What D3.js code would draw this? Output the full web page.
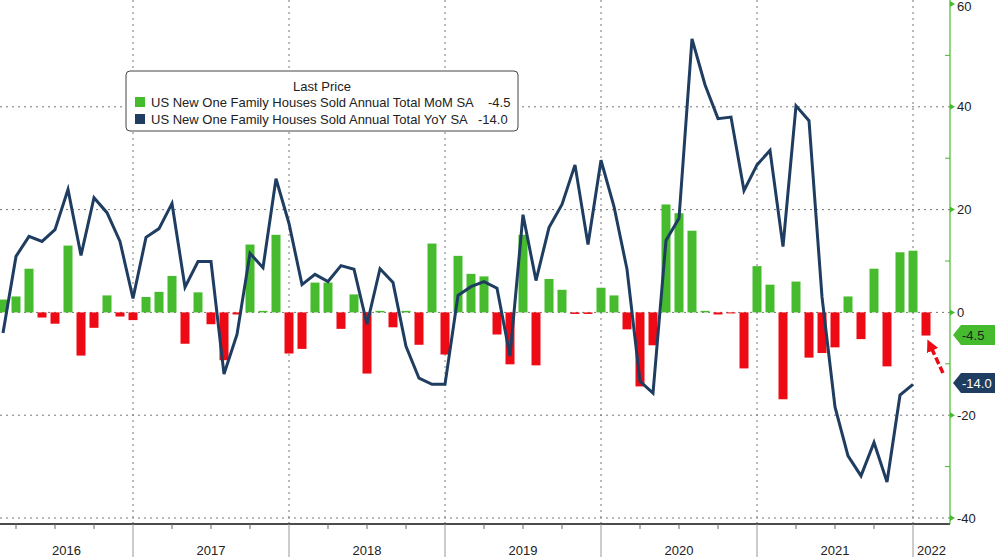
<!DOCTYPE html>
<html lang="en">
<head>
<meta charset="UTF-8">
<title>US New Home Sales</title>
<script src="https://d3js.org/d3.v7.min.js"></script>
<style>
  body { margin: 0; background: #fff; }
  text { font-family: "Liberation Sans Narrow", "Liberation Sans", Arial, sans-serif; }
</style>
</head>
<body>
<svg width="995" height="557"></svg>
<script>
// monthly data, first month Mar 2016 (month index 2 counted from Jan 2016)
const startIndex = 2;
const momValues = [2.5, 3.1, 8.5, -1.0, -2.2, 13.0, -8.4, -3.0, 3.3, -0.8, -1.5, 3.0,
  4.0, 7.1, -6.1, 3.9, -2.3, -9.3, -0.4, 13.2, 0.3, 15.1, -8.0, -7.1,
  5.8, 5.8, -3.2, 3.5, -11.9, 0.3, -2.9, 0.3, -6.3, 13.4, -8.2, 11.0,
  7.5, 7.0, -4.3, -10.1, 15.1, -10.3, 6.5, 4.4, -0.3, -0.3, 4.8, 3.3,
  -3.3, -14.4, -6.4, 21.0, 19.3, 15.9, 0.3, -0.4, -0.2, -10.9, 9.0, 5.4,
  -16.9, 6.0, -8.8, -7.9, -6.8, 3.1, -5.2, 8.5, -10.5, 11.7, 12.0, -4.5];
const yoyValues = [-4.0, 10.9, 14.8, 13.8, 16.1, 23.9, 11.1, 22.3, 19.4, 13.8, 2.7, 14.6,
  16.3, 21.2, 4.9, 9.9, 9.9, -12.0, -4.3, 11.5, 8.7, 26.0, 17.3, 5.4,
  7.4, 6.0, 9.1, 8.4, -2.3, 8.5, 5.8, -6.6, -12.8, -14.0, -14.0, 3.3,
  5.0, 6.0, 4.7, -8.5, 19.0, 6.2, 16.5, 21.0, 28.7, 13.2, 29.6, 20.6,
  8.4, -13.4, -15.7, 14.0, 18.3, 53.2, 44.3, 37.7, 38.0, 23.7, 28.7, 31.5,
  12.8, 40.2, 37.3, 3.0, -18.4, -27.9, -31.8, -25.3, -33.0, -16.1, -14.0];
const years = [2016, 2017, 2018, 2019, 2020, 2021, 2022];
const yTicks = [60, 40, 20, 0, -20, -40];
const yMinorTicks = [50, 30, 10, -10, -30];
const seriesNames = ["US New One Family Houses Sold Annual Total MoM SA",
                     "US New One Family Houses Sold Annual Total YoY SA"];
const lastValues = [-4.5, -14.0];

const green = "#45bb2d", red = "#ee0a14", navy = "#1f3d61";
const svg = d3.select("svg");
const plotRight = 950, plotBottom = 524;

const x = d3.scaleLinear().domain([12, 72]).range([133, 913]);
const y = d3.scaleLinear().domain([-40, 60]).range([518, 4]);

// gridlines
svg.append("g").selectAll("line").data(yTicks.filter(d => d !== 60)).join("line")
  .attr("x1", 0).attr("x2", plotRight).attr("y1", d => y(d)).attr("y2", d => y(d))
  .attr("stroke", "#777").attr("stroke-width", 1).attr("stroke-dasharray", "2,4");
svg.append("g").selectAll("line").data(years.slice(1)).join("line")
  .attr("x1", d => x((d - 2016) * 12)).attr("x2", d => x((d - 2016) * 12))
  .attr("y1", 0).attr("y2", plotBottom)
  .attr("stroke", "#777").attr("stroke-width", 1).attr("stroke-dasharray", "2,4");

// bars
svg.append("g").selectAll("rect").data(momValues).join("rect")
  .attr("x", (d, i) => x(startIndex + i) - 4.5)
  .attr("width", 9)
  .attr("y", d => y(Math.max(0, d)))
  .attr("height", d => Math.abs(y(d) - y(0)))
  .attr("fill", d => d >= 0 ? green : red);

// line
svg.append("path").datum(yoyValues)
  .attr("fill", "none").attr("stroke", navy).attr("stroke-width", 3)
  .attr("d", d3.line().x((d, i) => x(startIndex + i)).y(d => y(d)));

// bottom axis
svg.append("line").attr("x1", 0).attr("x2", plotRight).attr("y1", plotBottom).attr("y2", plotBottom)
  .attr("stroke", "#111").attr("stroke-width", 1.5);
const months = d3.range(startIndex, 74);
svg.append("g").selectAll("line").data(months.filter(m => m % 3 === 0 && m % 12 !== 0)).join("line")
  .attr("x1", d => x(d)).attr("x2", d => x(d)).attr("y1", plotBottom).attr("y2", plotBottom + 5)
  .attr("stroke", "#666");
svg.append("g").selectAll("line").data(years.slice(1)).join("line")
  .attr("x1", d => x((d - 2016) * 12)).attr("x2", d => x((d - 2016) * 12))
  .attr("y1", plotBottom).attr("y2", 557).attr("stroke", "#999");
svg.append("g").selectAll("text").data(years).join("text")
  .attr("x", d => (Math.max(0, x((d - 2016) * 12)) + Math.min(plotRight, x((d - 2015) * 12))) / 2)
  .attr("y", 555).attr("text-anchor", "middle").attr("font-size", 13).attr("fill", "#222")
  .text(d => d);

// right axis
svg.append("line").attr("x1", plotRight).attr("x2", plotRight).attr("y1", 0).attr("y2", plotBottom)
  .attr("stroke", green).attr("stroke-width", 1.2);
svg.append("g").selectAll("line").data(yMinorTicks).join("line")
  .attr("x1", plotRight - 5).attr("x2", plotRight).attr("y1", d => y(d)).attr("y2", d => y(d))
  .attr("stroke", green);
svg.append("g").selectAll("path").data(yTicks).join("path")
  .attr("d", d => `M${plotRight},${y(d) - 3}L${plotRight + 5},${y(d)}L${plotRight},${y(d) + 3}Z`)
  .attr("fill", green);
svg.append("g").selectAll("text").data(yTicks).join("text")
  .attr("x", plotRight + 7).attr("y", d => Math.max(11, y(d) + 4.5))
  .attr("font-size", 13).attr("fill", "#222").text(d => d);

// last value tags
const tagColors = [green, navy];
const tagText = ["#222", "#fff"];
const tagY = [335, 383];
lastValues.forEach((v, k) => {
  const yy = tagY[k];
  svg.append("path")
    .attr("d", `M${plotRight + 3},${yy}L${plotRight + 11},${yy - 10}L995,${yy - 10}L995,${yy + 10}L${plotRight + 11},${yy + 10}Z`)
    .attr("fill", tagColors[k]);
  svg.append("text").attr("x", plotRight + 12).attr("y", yy + 5)
    .attr("font-size", 13).attr("fill", tagText[k]).text(v.toFixed(1));
});

// red dashed arrow annotation
svg.append("defs").append("marker").attr("id", "ah").attr("viewBox", "0 0 10 10")
  .attr("refX", 5).attr("refY", 5).attr("markerWidth", 3.5).attr("markerHeight", 3.5).attr("orient", "auto")
  .append("path").attr("d", "M0,0L10,5L0,10Z").attr("fill", red);
svg.append("line").attr("x1", 943).attr("y1", 373).attr("x2", 930).attr("y2", 345)
  .attr("stroke", red).attr("stroke-width", 3.5).attr("stroke-dasharray", "7,3")
  .attr("marker-end", "url(#ah)");

// legend
const lg = svg.append("g").attr("transform", "translate(126,71)");
lg.append("rect").attr("width", 392).attr("height", 60).attr("rx", 4)
  .attr("fill", "#fff").attr("stroke", "#444");
lg.append("text").attr("x", 196).attr("y", 20).attr("text-anchor", "middle")
  .attr("font-size", 13).attr("fill", "#222").text("Last Price");
const valueX = [362, 352];
seriesNames.forEach((s, k) => {
  lg.append("rect").attr("x", 9).attr("y", 26 + k * 17).attr("width", 10).attr("height", 10)
    .attr("fill", tagColors[k]);
  lg.append("text").attr("x", 25).attr("y", 36 + k * 17).attr("font-size", 13).attr("fill", "#222")
    .text(s);
  lg.append("text").attr("x", valueX[k]).attr("y", 36 + k * 17).attr("font-size", 13).attr("fill", "#222")
    .text(lastValues[k].toFixed(1));
});
</script>
</body>
</html>
